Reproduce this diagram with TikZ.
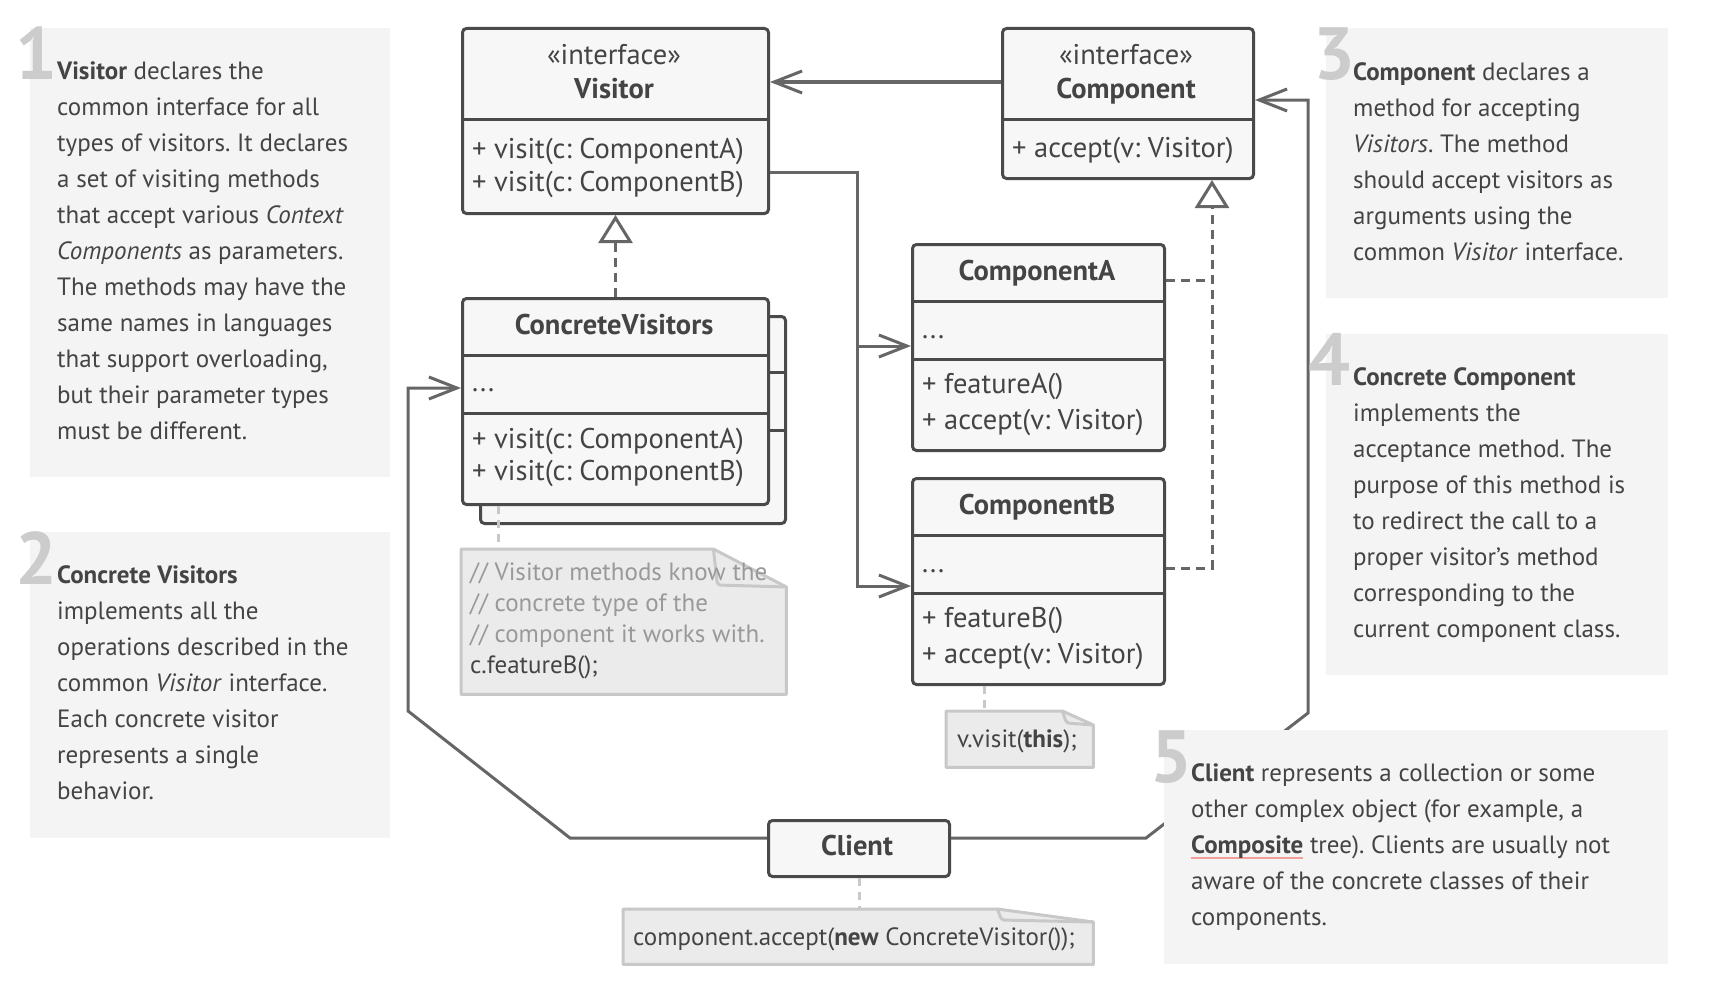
\documentclass[tikz,border=0pt]{standalone}
\usepackage{fontspec}
\setmainfont{PT Sans}
\usetikzlibrary{arrows.meta}
\frenchspacing

\definecolor{txt}{HTML}{444444}
\definecolor{boxline}{HTML}{4A4A4A}
\definecolor{boxfill}{HTML}{F7F7F7}
\definecolor{wirecol}{HTML}{666666}
\definecolor{panelcol}{HTML}{F4F4F4}
\definecolor{numgray}{HTML}{CCCCCC}
\definecolor{notefill}{HTML}{EBEBEB}
\definecolor{noteline}{HTML}{C8C8C8}
\definecolor{comment}{HTML}{999999}
\definecolor{underl}{HTML}{F2A09A}

\newlength{\ulwidth}
\newcommand{\pinkul}[1]{\settowidth{\ulwidth}{#1}\rlap{\color{underl}\rule[-6pt]{\ulwidth}{2.5pt}}#1}

% dog-eared code note round an empty named node
\newcommand{\dogear}[3]{%
  \draw[notebox] (#1.north west) -- ([xshift=-#2pt]#1.north east)
    -- ([yshift=-#3pt]#1.north east) -- (#1.south east) -- (#1.south west) -- cycle;
  \draw[notefold] ([xshift=-#2pt]#1.north east) -- ([xshift=-#2pt+4pt, yshift=-#3pt+2pt]#1.north east)
    -- ([yshift=-#3pt]#1.north east);
}

\tikzset{
  umlbox/.style={draw=boxline, fill=boxfill, line width=3pt, rounded corners=4pt, inner sep=0pt, anchor=north west},
  umlsep/.style={draw=boxline, line width=3pt},
  stereo/.style={anchor=base, inner sep=0pt, text=txt, font=\fontsize{28.5}{33}\selectfont},
  clsname/.style={anchor=base, inner sep=0pt, text=txt, font=\bfseries\fontsize{28.5}{33}\selectfont},
  member/.style={anchor=base west, inner sep=0pt, text=txt, font=\fontsize{28.5}{33}\selectfont},
  wire/.style={draw=wirecol, line width=3pt},
  assoc/.style={wire, -{Straight Barb[length=28pt, width=22pt, line width=3pt]}},
  dashedwire/.style={wire, dash pattern=on 9pt off 6pt},
  realize/.style={dashedwire, -{Triangle[length=28pt, width=34pt, line width=3pt, fill=white]}},
  notelink/.style={draw=noteline, line width=3pt, dash pattern=on 8pt off 6pt},
  notearea/.style={anchor=north west, inner sep=0pt},
  notebox/.style={fill=notefill, draw=noteline, line width=3pt, line join=round},
  notefold/.style={draw=noteline, line width=3pt, rounded corners=3pt},
  notetext/.style={anchor=base west, inner sep=0pt, text=txt, font=\fontsize{25}{31}\selectfont},
  panel/.style={fill=panelcol, inner sep=0pt, anchor=north west},
  numeral/.style={anchor=north west, inner sep=0pt, text=numgray, font=\bfseries\fontsize{74}{74}\selectfont},
  paneltext/.style={anchor=north west, inner sep=0pt, align=left, text=txt, font=\fontsize{25}{36}\selectfont},
}

\begin{document}
\begin{tikzpicture}[x=1pt, y=-1pt]
  \useasboundingbox (0,0) rectangle (1724,990);
  \fill[white] (0,0) rectangle (1724,990);

  % Visitor interface
  \node[umlbox, minimum width=306pt, minimum height=185pt] (visitor) at (461,27) {};
  \draw[umlsep] (461,119) -- (767,119);
  \node[stereo] (visitorst) at (614,64) {«interface»};
  \node[clsname] (visitorname) at (614,99) {Visitor};
  \node[member] (visitorm1) at (472,158) {+ visit(c: ComponentA)};
  \node[member] (visitorm2) at (472,191) {+ visit(c: ComponentB)};

  % Component interface
  \node[umlbox, minimum width=251pt, minimum height=150pt] (component) at (1001,27) {};
  \draw[umlsep] (1001,119) -- (1252,119);
  \node[stereo] (compst) at (1126,64) {«interface»};
  \node[clsname] (compname) at (1126,99) {Component};
  \node[member] (compm1) at (1012,157) {+ accept(v: Visitor)};

  % ConcreteVisitors, with one copy behind
  \node[umlbox, minimum width=305pt, minimum height=207pt] (cvback) at (479,315) {};
  \draw[umlsep] (479,372) -- (784,372);
  \draw[umlsep] (479,430) -- (784,430);
  \node[umlbox, minimum width=306pt, minimum height=206pt] (cv) at (461,297) {};
  \draw[umlsep] (461,355) -- (767,355);
  \draw[umlsep] (461,413) -- (767,413);
  \node[clsname] (cvname) at (614,334) {ConcreteVisitors};
  \node[member] (cvf) at (472,391) {...};
  \node[member] (cvm1) at (472,448) {+ visit(c: ComponentA)};
  \node[member] (cvm2) at (472,480) {+ visit(c: ComponentB)};

  % ComponentA
  \node[umlbox, minimum width=252pt, minimum height=206pt] (compa) at (911,243) {};
  \draw[umlsep] (911,301) -- (1163,301);
  \draw[umlsep] (911,359) -- (1163,359);
  \node[clsname] (companame) at (1037,280) {ComponentA};
  \node[member] (compaf) at (922,338) {...};
  \node[member] (compam1) at (922,393) {+ featureA()};
  \node[member] (compam2) at (922,429) {+ accept(v: Visitor)};

  % ComponentB
  \node[umlbox, minimum width=252pt, minimum height=206pt] (compb) at (911,477) {};
  \draw[umlsep] (911,535) -- (1163,535);
  \draw[umlsep] (911,593) -- (1163,593);
  \node[clsname] (compbname) at (1037,514) {ComponentB};
  \node[member] (compbf) at (922,572) {...};
  \node[member] (compbm1) at (922,627) {+ featureB()};
  \node[member] (compbm2) at (922,663) {+ accept(v: Visitor)};

  % Client
  \node[umlbox, minimum width=181pt, minimum height=56pt] (client) at (767,819) {};
  \node[clsname] (clientname) at (857,855) {Client};

  % code notes
  \node[notearea, minimum width=325pt, minimum height=145pt] (cvnote) at (461,549) {};
  \dogear{cvnote}{73}{38}
  \node[notetext, anchor=north west, align=left] (cvcode) at (470,553)
    {\rule{0pt}{27pt}\textcolor{comment}{// Visitor methods know the}\\
     \textcolor{comment}{// concrete type of the}\\
     \textcolor{comment}{// component it works with.}\\
     c.featureB();};
  \node[notearea, minimum width=147pt, minimum height=56pt] (visitnote) at (946,711) {};
  \dogear{visitnote}{31}{14}
  \node[notetext] (visitcode) at (957,747) {v.visit(\textbf{this});};
  \node[notearea, minimum width=470pt, minimum height=55pt] (clientnote) at (623,909) {};
  \dogear{clientnote}{96}{13}
  \node[notetext] (clientcode) at (633,945) {component.accept(\textbf{new} ConcreteVisitor());};

  % connectors
  \draw[assoc] ([yshift=-55pt]component.north west) -- ([yshift=-55pt]visitor.north east);
  \coordinate (vbend) at (857,172);
  \coordinate (inA) at ([yshift=-103pt]compa.north west);
  \coordinate (inB) at ([yshift=-109pt]compb.north west);
  \draw[assoc] ([yshift=-145pt]visitor.north east) -- (vbend) |- (inB);
  \draw[assoc] (inA -| vbend) -- (inA);
  \draw[realize] (cv.north) -- (visitor.south);
  \coordinate (comptip) at ([xshift=-43pt]component.south east);
  \coordinate (outA) at ([yshift=-37pt]compa.north east);
  \coordinate (outB) at ([yshift=-91pt]compb.north east);
  \draw[dashedwire] (outA) -- (outA -| comptip);
  \draw[realize] (outB) -| (comptip);
  \draw[assoc] ([yshift=-19pt]client.north west) -- (570,838) -- (408,711) |- ([yshift=-91pt]cv.north west);
  \draw[assoc] ([yshift=-19pt]client.north east) -- (1146,838) -- (1308,713) |- ([yshift=-73pt]component.north east);
  \draw[notelink] ([xshift=37pt]cv.south west) -- ([xshift=37pt]cvnote.north west);
  \draw[notelink] ([xshift=73pt]compb.south west) -- ([xshift=38pt]visitnote.north west);
  \draw[notelink] (client.south) -- (client.south |- clientnote.north);

  % explanation panels
  \node[panel, minimum width=360pt, minimum height=449pt] (panel1) at (30,28) {};
  \node[panel, minimum width=360pt, minimum height=306pt] (panel2) at (30,532) {};
  \node[panel, minimum width=342pt, minimum height=270pt] (panel3) at (1326,28) {};
  \node[panel, minimum width=342pt, minimum height=341pt] (panel4) at (1326,334) {};
  \node[panel, minimum width=504pt, minimum height=234pt] (panel5) at (1164,730) {};
  \node[numeral] (num1) at (15,27) {1};
  \node[numeral] (num2) at (15,531) {2};
  \node[numeral] (num3) at (1313,27) {3};
  \node[numeral] (num4) at (1308,333) {4};
  \node[numeral] (num5) at (1150,730) {5};

  \node[paneltext] (text1) at (57,52) {\rule{0pt}{27pt}\textbf{Visitor} declares the\\
    common interface for all\\
    types of visitors. It declares\\
    a set of visiting methods\\
    that accept various \textit{Context}\\
    \textit{Components} as parameters.\\
    The methods may have the\\
    same names in languages\\
    that support overloading,\\
    but their parameter types\\
    must be different.};
  \node[paneltext] (text2) at (57,556) {\rule{0pt}{27pt}\textbf{Concrete Visitors}\\
    implements all the\\
    operations described in the\\
    common \textit{Visitor} interface.\\
    Each concrete visitor\\
    represents a single\\
    behavior.};
  \node[paneltext] (text3) at (1353,53) {\rule{0pt}{27pt}\textbf{Component} declares a\\
    method for accepting\\
    \textit{Visitors}. The method\\
    should accept visitors as\\
    arguments using the\\
    common \textit{Visitor} interface.};
  \node[paneltext] (text4) at (1353,358) {\rule{0pt}{27pt}\textbf{Concrete Component}\\
    implements the\\
    acceptance method. The\\
    purpose of this method is\\
    to redirect the call to a\\
    proper visitor's method\\
    corresponding to the\\
    current component class.};
  \node[paneltext] (text5) at (1191,754) {\rule{0pt}{27pt}\textbf{Client} represents a collection or some\\
    other complex object (for example, a\\
    \pinkul{\textbf{Composite}} tree). Clients are usually not\\
    aware of the concrete classes of their\\
    components.};
\end{tikzpicture}
\end{document}
